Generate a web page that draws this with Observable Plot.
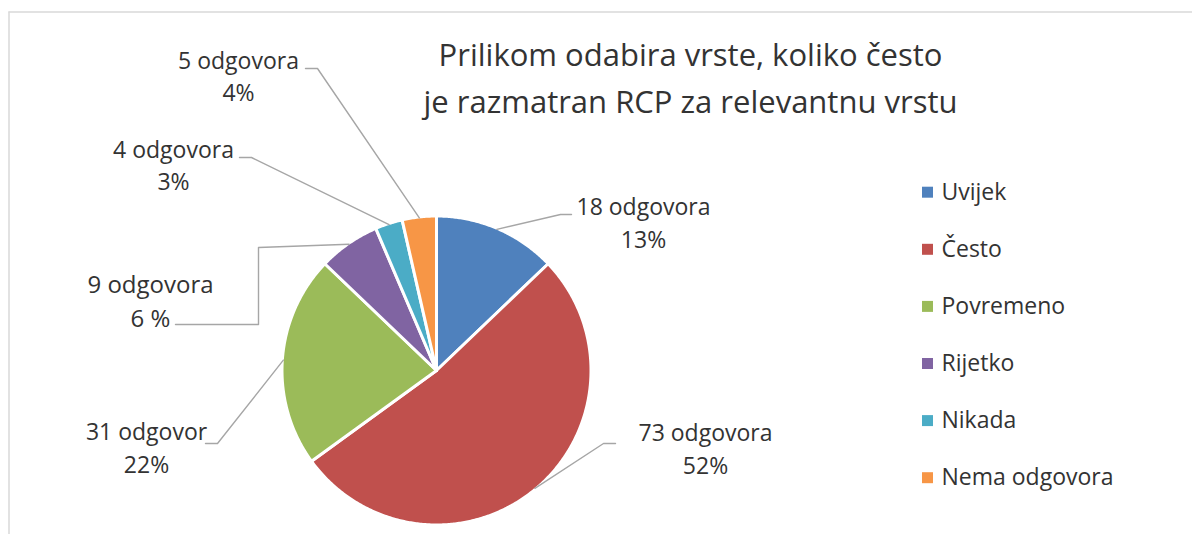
<!DOCTYPE html>
<html><head><meta charset="utf-8">
<script src="https://cdn.jsdelivr.net/npm/d3@7"></script>
<script src="https://cdn.jsdelivr.net/npm/@observablehq/plot@0.6"></script>
<style>html,body{margin:0;padding:0;background:#fff;} svg{display:block}</style>
</head><body><div id="chart"></div>
<script>
// ---- data ----
const categories = ["Uvijek", "Često", "Povremeno", "Rijetko", "Nikada", "Nema odgovora"];
const counts = [18, 73, 31, 9, 4, 5];
const countLabels = ["18 odgovora", "73 odgovora", "31 odgovor", "9 odgovora", "4 odgovora", "5 odgovora"];
const percentLabels = ["13%", "52%", "22%", "6 %", "3%", "4%"];
const colors = ["#4F81BD", "#C0504D", "#9BBB59", "#8064A2", "#4BACC6", "#F79646"];
const titleLines = ["Prilikom odabira vrste, koliko često", "je razmatran RCP za relevantnu vrstu"];

// ---- layout (pixels) ----
const W = 1192, H = 534;
const pieLayout = {cx: 436, cy: 370, r: 154.5};
const labelLayout = [
  {x: 643, y1: 207.5, y2: 240.5, size: 23, path: [[560, 214], [571, 214]]},
  {x: 705, y1: 433, y2: 466.5, size: 23, path: [[603, 443], [615, 443]]},
  {x: 146, y1: 432.5, y2: 465.5, size: 23, path: [[217, 443], [205, 443]]},
  {x: 150, y1: 285, y2: 319, size: 24, path: [[258, 247], [258, 324], [175, 324]]},
  {x: 173, y1: 150.3, y2: 182.5, size: 23, path: [[251, 157], [239, 157]]},
  {x: 238, y1: 61, y2: 93.3, size: 23, path: [[317, 68], [305, 68]]}
];
const legendLayout = {xBox: 927, xText: 941, y0: 191.7, dy: 57.1, size: 23};
const titleLayout = {x: 690, y: [55.5, 102.5], size: 31};
const FONT = "'Open Sans', 'Noto Sans', sans-serif";
const TEXT = "#333333";

// ---- derived geometry ----
const arcs = d3.pie().sort(null).value(d => d)(counts);
const {cx, cy, r} = pieLayout;
const pt = (a, rad) => [cx + rad * Math.sin(a), cy - rad * Math.cos(a)];

const slicePts = [];
arcs.forEach((a, i) => {
  const name = categories[i];
  slicePts.push({name, x: cx, y: cy});
  const n = Math.max(2, Math.ceil((a.endAngle - a.startAngle) / (Math.PI / 360)));
  for (let k = 0; k <= n; ++k) {
    const t = a.startAngle + (a.endAngle - a.startAngle) * k / n;
    const [x, y] = pt(t, r);
    slicePts.push({name, x, y});
  }
  slicePts.push({name, x: cx, y: cy});
});

const leaderPts = [];
arcs.forEach((a, i) => {
  const mid = (a.startAngle + a.endAngle) / 2;
  const [x0, y0] = pt(mid, r - 1);
  const name = categories[i];
  leaderPts.push({name, x: x0, y: y0});
  labelLayout[i].path.forEach(([x, y]) => leaderPts.push({name, x, y}));
});

const labelRows = [];
categories.forEach((c, i) => {
  const L = labelLayout[i];
  labelRows.push({x: L.x, y: L.y1, text: countLabels[i], size: L.size});
  labelRows.push({x: L.x, y: L.y2, text: percentLabels[i], size: L.size});
});

const legendRows = categories.map((c, i) => ({name: c, y: legendLayout.y0 + i * legendLayout.dy}));
const titleRows = titleLines.map((t, i) => ({text: t, y: titleLayout.y[i]}));

const chart = Plot.plot({
  width: W, height: H,
  margin: 0,
  style: {background: "#fff", fontFamily: FONT},
  x: {domain: [0, W], range: [0, W], axis: null},
  y: {domain: [0, H], range: [0, H], axis: null},
  color: {domain: categories, range: colors},
  marks: [
    // chart frame (top and left edges visible)
    Plot.ruleY([11.5], {x1: 8.5, x2: W, stroke: "#d9d9d9", strokeWidth: 1.5}),
    Plot.ruleX([8.5], {y1: 11.5, y2: H, stroke: "#d9d9d9", strokeWidth: 1.5}),
    // slices
    Plot.line(slicePts, {x: "x", y: "y", z: "name", fill: "name", stroke: "#fff", strokeWidth: 3, strokeLinejoin: "round", curve: "linear"}),
    // leader lines
    Plot.line(leaderPts, {x: "x", y: "y", z: "name", stroke: "#a6a6a6", strokeWidth: 1.4, curve: "linear"}),
    // data labels
    Plot.text(labelRows, {x: "x", y: "y", text: "text", fontSize: "size", fill: TEXT, textAnchor: "middle", lineAnchor: "middle", fontFamily: FONT}),
    // title
    Plot.text(titleRows, {x: () => titleLayout.x, y: "y", text: "text", fontSize: titleLayout.size, fill: TEXT, textAnchor: "middle", lineAnchor: "middle", fontFamily: FONT}),
    // legend
    Plot.dot(legendRows, {x: () => legendLayout.xBox, y: "y", fill: "name", symbol: "square", r: 6.2, stroke: "none"}),
    Plot.text(legendRows, {x: () => legendLayout.xText, y: "y", text: "name", fontSize: legendLayout.size, fill: TEXT, textAnchor: "start", lineAnchor: "middle", fontFamily: FONT})
  ]
});
document.getElementById("chart").appendChild(chart);
</script>
</body></html>
